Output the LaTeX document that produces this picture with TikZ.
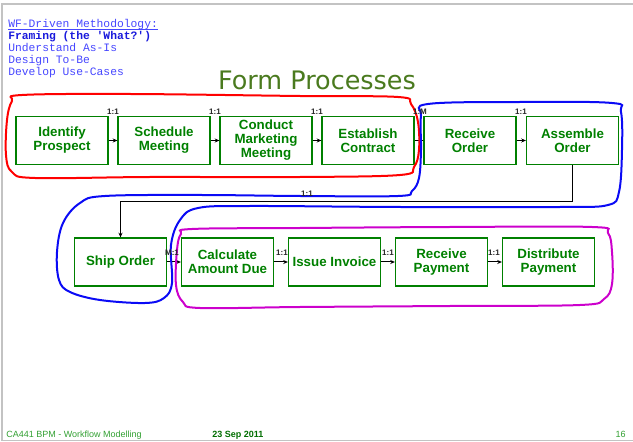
\documentclass[tikz,border=0pt]{standalone}
\usepackage{fontspec}
\setmainfont{Liberation Sans}
\newfontfamily\monofont{Liberation Mono}
\newfontfamily\titlefont{DejaVu Sans}
\usetikzlibrary{arrows.meta}
\definecolor{boxgreen}{RGB}{0,128,0}
\definecolor{titlegreen}{RGB}{74,122,30}
\definecolor{footgreen}{RGB}{50,160,50}
\definecolor{menublue}{RGB}{70,70,255}
\definecolor{menudark}{RGB}{25,25,220}
\definecolor{loopred}{RGB}{255,0,0}
\definecolor{loopblue}{RGB}{10,10,245}
\definecolor{loopmag}{RGB}{204,0,204}
\definecolor{framegray}{RGB}{195,195,195}
\tikzset{
  procbox/.style={draw=boxgreen, line width=0.9pt, minimum width=69pt, minimum height=36pt,
    inner sep=0pt, text=boxgreen, align=center,
    font=\fontsize{10pt}{10.5pt}\selectfont\bfseries},
  flow/.style={draw=black, line width=0.75pt, -{Stealth[length=3.5pt,width=3pt]}},
  card/.style={font=\fontsize{6pt}{6pt}\selectfont\bfseries, text=black!85, inner sep=0pt},
  menu/.style={font=\fontsize{8.5pt}{9pt}\monofont, text=menublue, anchor=base west, inner sep=0pt},
  foot/.style={font=\fontsize{6.75pt}{7pt}\selectfont, text=footgreen, anchor=base west, inner sep=0pt},
  loop/.style={line width=1.5pt, smooth cycle, tension=0.6}
}
\begin{document}
\begin{tikzpicture}[x=0.75pt,y=-0.75pt]
\useasboundingbox (0,0) rectangle (633,442);
% frame
\draw[framegray, line width=1pt] (633,4) -- (2,4) -- (2,440.5) -- (633,440.5);

% menu text
\node[menu] (m1) at (8,28) {WF-Driven Methodology:};
\draw[menublue, line width=0.6pt] ([yshift=-1.2pt]m1.base west) -- ([yshift=-1.2pt]m1.base east);
\node[menu, text=menudark, font=\fontsize{8.5pt}{9pt}\monofont\bfseries] (m2) at (8,40) {Framing (the 'What?')};
\node[menu] (m3) at (8,52) {Understand As-Is};
\node[menu] (m4) at (8,64) {Design To-Be};
\node[menu] (m5) at (8,76) {Develop Use-Cases};

% title
\node[anchor=base, font=\fontsize{19.1pt}{20pt}\titlefont, text=titlegreen, inner sep=0pt] (title) at (317,90) {Form Processes};

% top row
\node[procbox] (b1) at (62,140.5) {Identify\\Prospect};
\node[procbox] (b2) at (164,140.5) {Schedule\\Meeting};
\node[procbox] (b3) at (266,140.5) {Conduct\\Marketing\\Meeting};
\node[procbox] (b4) at (368,140.5) {Establish\\Contract};
\node[procbox] (b5) at (470,140.5) {Receive\\Order};
\node[procbox] (b6) at (572.5,140.5) {Assemble\\Order};

% bottom row
\node[procbox] (s1) at (120.5,262) {Ship Order};
\node[procbox] (s2) at (227.5,262) {Calculate\\Amount Due};
\node[procbox] (s3) at (334.5,262) {Issue Invoice};
\node[procbox] (s4) at (441.5,262) {Receive\\Payment};
\node[procbox] (s5) at (548.5,262) {Distribute\\Payment};

% arrows
\draw[flow] (b1) -- (b2);
\draw[flow] (b2) -- (b3);
\draw[flow] (b3) -- (b4);
\draw[flow] (b4) -- (b5);
\draw[flow] (b5) -- (b6);
\coordinate (bend) at (0,202);
\draw[flow] (b6.south) -- (b6.south |- bend) -| (s1.north);
\draw[flow] (s1) -- (s2);
\draw[flow] (s2) -- (s3);
\draw[flow] (s3) -- (s4);
\draw[flow] (s4) -- (s5);

% freehand loops
\draw[loopred, loop] plot coordinates {
 (22,95) (130,94) (300,96) (398,97) (411,104) (418,122) (419,150) (414,167) (400,175)
 (300,177) (150,177) (35,178) (12,172) (6,155) (7,120) (12,101)};
\draw[loopblue, loop] plot coordinates {
 (428,104) (520,102) (612,103) (621,112) (622,150) (619,192) (608,205) (560,207)
 (400,207) (250,206) (198,208) (180,220) (171,245) (172,283) (164,298) (145,303)
 (100,300) (70,292) (59,280) (57,252) (63,223) (80,203) (105,196) (200,195)
 (300,196) (398,196) (412,191) (419,178) (421,150) (421,116)};
\draw[loopmag, loop] plot coordinates {
 (192,229) (300,228) (450,227) (592,227) (608,233) (612,252) (612,284) (604,299)
 (580,305) (450,306) (300,307) (200,308) (183,302) (176,285) (177,250) (181,234)};

% cardinality labels
\node[card] (l1) at (113,111.5) {1:1};
\node[card] (l2) at (215,111.5) {1:1};
\node[card] (l3) at (317,111.5) {1:1};
\node[card] (l4) at (420,111.5) {1:M};
\node[card] (l5) at (521,111.5) {1:1};
\node[card] (l6) at (307,193.5) {1:1};
\node[card] (l7) at (172,252.5) {M:1};
\node[card] (l8) at (282,252.5) {1:1};
\node[card] (l9) at (388,252.5) {1:1};
\node[card] (l10) at (494,252.5) {1:1};

% footer
\node[foot] (f1) at (6,438) {CA441 BPM - Workflow Modelling};
\node[foot, font=\fontsize{6.75pt}{7pt}\selectfont\bfseries, text=boxgreen!85!black] (f2) at (212,438) {23 Sep 2011};
\node[foot, anchor=base east] (f3) at (626,438) {16};
\end{tikzpicture}
\end{document}
